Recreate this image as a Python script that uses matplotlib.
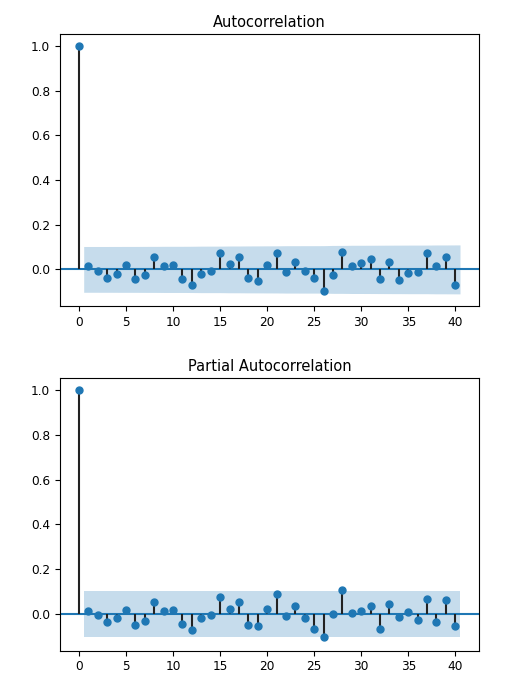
import numpy as np
import matplotlib
matplotlib.use("Agg")
import matplotlib.pyplot as plt

plt.rcParams.update({'xtick.labelsize': 8.7, 'ytick.labelsize': 8.7})

# values (lags 0..40)
lags = np.arange(41)
acf_vals = [1.0, 0.015, -0.005, -0.037, -0.02, 0.019, -0.044, -0.026, 0.054, 0.015,
            0.019, -0.044, -0.07, -0.02, -0.005, 0.075, 0.024, 0.054, -0.037, -0.054,
            0.019, 0.075, -0.01, 0.034, -0.009, -0.037, -0.099, -0.026, 0.079, 0.015,
            0.03, 0.046, -0.044, 0.034, -0.048, -0.015, -0.01, 0.075, 0.015, 0.054,
            -0.07]
pacf_vals = [1.0, 0.015, -0.005, -0.037, -0.02, 0.019, -0.048, -0.03, 0.054, 0.015,
             0.019, -0.044, -0.07, -0.02, -0.005, 0.075, 0.024, 0.054, -0.048, -0.054,
             0.024, 0.091, -0.01, 0.034, -0.018, -0.066, -0.105, 0.002, 0.108, 0.006,
             0.015, 0.034, -0.066, 0.046, -0.015, 0.007, -0.025, 0.067, -0.037, 0.061,
             -0.055]
nobs = 365
z = 1.96

acf_arr = np.array(acf_vals)
# Bartlett band for the ACF, plain 1/sqrt(n) for the PACF (as statsmodels does)
var_acf = np.ones(len(acf_arr)) / nobs
var_acf[0] = 0
var_acf[2:] *= 1 + 2 * np.cumsum(acf_arr[1:-1] ** 2)
acf_band = z * np.sqrt(var_acf)
pacf_band = np.full(len(pacf_vals), z / np.sqrt(nobs))
pacf_band[0] = 0


def corr_panel(ax, vals, band, title):
    vals = np.asarray(vals)
    ax.vlines(lags, 0, vals, colors="#222222", linewidth=1.5, zorder=2)
    ax.plot(lags, vals, "o", color="C0", markersize=5, zorder=3)
    ax.axhline(0, color="C0", linewidth=1.5, zorder=1)
    xb = lags[1:].astype(float)
    xb[0] -= 0.5
    xb[-1] += 0.5
    ax.fill_between(xb, -band[1:], band[1:], color="C0", alpha=0.25, linewidth=0)
    ax.set_xlim(-2.02, 42.52)
    ax.set_ylim(-0.164, 1.056)
    ax.set_xticks([0, 5, 10, 15, 20, 25, 30, 35, 40])
    ax.set_yticks([0.0, 0.2, 0.4, 0.6, 0.8, 1.0])
    ax.set_title(title, fontsize=10.5, pad=5)


fig = plt.figure(figsize=(5.14, 6.85), dpi=100)
ax1 = fig.add_axes([0.1167, 0.5533, 0.8152, 0.3975])
ax2 = fig.add_axes([0.1167, 0.0501, 0.8152, 0.3985])

corr_panel(ax1, acf_vals, acf_band, "Autocorrelation")
corr_panel(ax2, pacf_vals, pacf_band, "Partial Autocorrelation")

fig.savefig("out.png", dpi=100)
